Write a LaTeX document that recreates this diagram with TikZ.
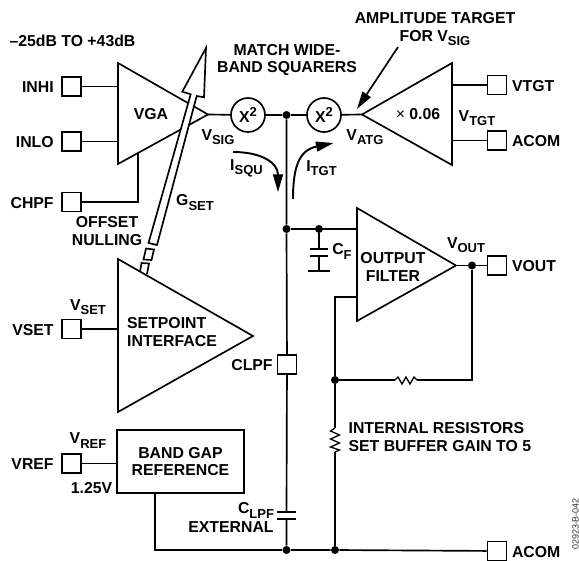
\documentclass[tikz,border=0pt]{standalone}
\usepackage{fontspec}
\setmainfont{Liberation Sans}
\usetikzlibrary{arrows.meta}
\newcommand{\lsub}[2]{#1\raisebox{-2.4pt}{\fontsize{7.4}{8}\selectfont #2}}
\newcommand{\lsup}[2]{#1\raisebox{3pt}{\fontsize{7.4}{8}\selectfont #2}}
\tikzset{
  wire/.style={line width=.95pt},
  term/.style={draw,line width=.95pt,fill=white,minimum size=.38cm,inner sep=0pt},
  dot/.style={circle,fill=black,minimum size=.16cm,inner sep=0pt},
  sqr/.style={circle,draw,line width=.95pt,fill=white,minimum size=.68cm,inner sep=0pt},
  lbl/.style={inner sep=0pt,align=center},
  flow/.style={line width=1.1pt,-{Triangle[length=10pt,width=5.6pt]}}
}
\begin{document}
\begin{tikzpicture}[x=.02cm,y=-.02cm,font=\fontsize{9}{10}\selectfont\bfseries]
\useasboundingbox (0,0) rectangle (579,561);
\coordinate (vgaA) at (118,63);
\coordinate (vgaB) at (118,164);
\coordinate (vgaC) at (208,114.5);
\coordinate (tgtA) at (452,63);
\coordinate (tgtB) at (452,165);
\coordinate (tgtC) at (362,114.5);
\coordinate (filA) at (357,208);
\coordinate (filB) at (357,321);
\coordinate (filC) at (456,265.5);
\coordinate (setA) at (118,259);
\coordinate (setB) at (118,412);
\coordinate (setC) at (253,336);
\foreach \nm in {vga,tgt,fil,set}
  \draw[wire,line join=miter] (\nm A)--(\nm B)--(\nm C)--cycle;
\foreach \nm/\y/\ttl in {inhi/86.5/INHI,inlo/141.5/INLO,chpf/202/CHPF,vset/329/VSET,vref/463.5/VREF}{
  \node[term] (\nm) at (71.5,\y) {};
  \node[lbl,anchor=east] (\nm txt) at (54,\y+1) {\ttl};
}
\foreach \nm/\y/\ttl in {vtgt/85/VTGT,acomt/140.5/ACOM,vout/265.5/VOUT,acomb/551/ACOM}{
  \node[term] (\nm) at (497,\y) {};
  \node[lbl,anchor=west] (\nm txt) at (511.7,\y+1) {\ttl};
}
\draw[wire] (inhi) -- (inhi -| vgaA);
\draw[wire] (inlo) -- (inlo -| vgaA);
\draw[wire] (vset) -- (vset -| setA);
\coordinate (chpfup) at (138,153);
\draw[wire] (chpf) -| (chpfup);
\draw[wire] (vtgt) -- (vtgt -| tgtA);
\draw[wire] (acomt) -- (acomt -| tgtA);
\node[sqr] (sqra) at (248,115) {\lsup{X}{2}};
\node[sqr] (sqrb) at (324,115) {\lsup{X}{2}};
\node[dot] (jtop) at (286.5,115) {};
\node[dot] (jflt) at (286.5,229) {};
\node[dot] (jbot) at (286.5,550) {};
\node[dot] (jfbb) at (335,550) {};
\node[dot] (jfbm) at (335,380) {};
\node[dot] (jcf) at (319,229) {};
\node[dot] (jout) at (472,265.5) {};
\node[term] (clpf) at (287,364.5) {};
\draw[wire] (vgaC) -- (sqra) -- (jtop) -- (sqrb) -- (tgtC);
\draw[wire] (jtop) -- (jflt) -- (clpf);
\draw[wire] (jflt) -- (jflt -| filA);
\draw[wire] (filC) -- (vout);
% external capacitor
\coordinate (clpfa) at (286.5,512);
\coordinate (clpfb) at (286.5,519);
\draw[wire] (clpf) -- (clpfa) (clpfb) -- (jbot);
\draw[wire] ([xshift=-.19cm]clpfa) -- ([xshift=.19cm]clpfa);
\draw[wire] ([xshift=-.19cm]clpfb) -- ([xshift=.19cm]clpfb);
% filter capacitor
\coordinate (cfa) at (319,249);
\coordinate (cfb) at (319,256);
\coordinate (cfc) at (319,271);
\draw[wire] (jcf) -- (cfa) (cfb) -- (cfc);
\draw[wire] ([xshift=-.19cm]cfa) -- ([xshift=.19cm]cfa);
\draw[wire] ([xshift=-.19cm]cfb) -- ([xshift=.19cm]cfb);
\draw[wire] ([xshift=-.22cm]cfc) -- ([xshift=.22cm]cfc);
% feedback
\coordinate (rha) at (395,380);
\coordinate (rhb) at (417,380);
\coordinate (rva) at (335,428);
\coordinate (rvb) at (335,452);
\coordinate (fbin) at (357,297);
\coordinate (fbup) at (335,297);
\coordinate (fbrt) at (472,380);
\draw[wire] (jout) -- (fbrt) -- (rhb);
\draw[wire] (rha) -- (jfbm);
\draw[wire] (fbin) -- (fbup) -- (jfbm) -- (rva);
\draw[wire] (rvb) -- (jfbb);
\draw[line width=.75pt] (rha) -- ++(3,-3) -- ++(4,7) -- ++(4,-7) -- ++(4,7) -- ++(4,-7) -- (rhb);
\draw[line width=.75pt] (rva) -- ++(-4.5,3) -- ++(9,4) -- ++(-9,4) -- ++(9,4) -- ++(-9,4) -- ++(9,3) -- (rvb);
% band gap
\node[draw,line width=.95pt,minimum width=2.54cm,minimum height=1.26cm,inner sep=0pt,align=center] (bgap) at (180.5,461.5) {BAND GAP\\REFERENCE};
\draw[wire] (vref) -- (vref -| bgap.west);
\coordinate (bgdn) at (155,493);
\coordinate (bgbt) at (155,550);
\draw[wire] (bgdn) -- (bgbt) -- (jbot) -- (jfbb) -- (acomb);
% gain arrow
\draw[wire,fill=white,line join=miter] (148.5,243) -- (190.7,94.3) -- (182.3,91.7) -- (206,48) -- (204,97.3) -- (196.7,96) -- (157,245) -- cycle;
\draw[wire] (146,248.5) -- (154,249.5) -- (151.5,260) -- (143.5,259.5) -- cycle;
\draw[wire] (140,272) -- (141.5,263) -- (149,263.5) -- (147,274);
% pointers
\coordinate (ampa) at (398,47);
\coordinate (ampb) at (357,109);
\draw[flow,line width=.95pt] (ampa) -- (ampb);
\coordinate (squa) at (233,152);
\coordinate (squb) at (278,192);
\draw[flow] (squa) .. controls (262,152) and (278,163) .. (squb);
\coordinate (tgta) at (293,199);
\coordinate (tgtz) at (333.5,143);
\draw[flow] (tgta) .. controls (293,165) and (300,150) .. (tgtz);
% labels
\node[lbl] (gainrng) at (72.5,41) {--25dB TO +43dB};
\node[lbl] (vgatxt) at (151,114) {VGA};
\node[lbl] (matchtxt) at (287,60) {MATCH WIDE-\\BAND SQUARERS};
\node[lbl] (amptxt) at (435,29) {AMPLITUDE TARGET\\FOR \lsub{V}{SIG}};
\node[lbl] (vsigtxt) at (218,137.5) {\lsub{V}{SIG}};
\node[lbl] (isqutxt) at (246.5,168.5) {\lsub{I}{SQU}};
\node[lbl] (gsettxt) at (195,202.5) {\lsub{G}{SET}};
\node[lbl] (offtxt) at (107,231) {OFFSET\\NULLING};
\node[lbl] (vatgtxt) at (365,137.5) {\lsub{V}{ATG}};
\node[lbl] (vtgttxt) at (477,118.5) {\lsub{V}{TGT}};
\node[lbl] (itgttxt) at (321.5,168.5) {\lsub{I}{TGT}};
\node[lbl] (gaintxt) at (418,114) {\textmd{×} 0.06};
\node[lbl] (cftxt) at (342,251.5) {\lsub{C}{F}};
\node[lbl] (filtxt) at (393,267) {OUTPUT\\FILTER};
\node[lbl] (vouttxt) at (466,245.5) {\lsub{V}{OUT}};
\node[lbl] (vsetlbl) at (88,307.5) {\lsub{V}{SET}};
\node[lbl,align=left] (settxt) at (172,332) {SETPOINT\\INTERFACE};
\node[lbl,anchor=east] (clpftxt) at (273,365) {CLPF};
\node[lbl] (vreflbl) at (88,440.5) {\lsub{V}{REF}};
\node[lbl] (bgvtxt) at (91.5,488) {1.25V};
\node[lbl] (clpflbl) at (256,510.5) {\lsub{C}{LPF}};
\node[lbl] (exttxt) at (231,527) {EXTERNAL};
\node[lbl,align=left,anchor=west] (inttxt) at (348.3,437) {INTERNAL RESISTORS\\SET BUFFER GAIN TO 5};
\node[lbl,rotate=90,font=\fontsize{5.1}{6}\selectfont,black!80] (figno) at (575.5,524) {02923-B-042};
\end{tikzpicture}
\end{document}
